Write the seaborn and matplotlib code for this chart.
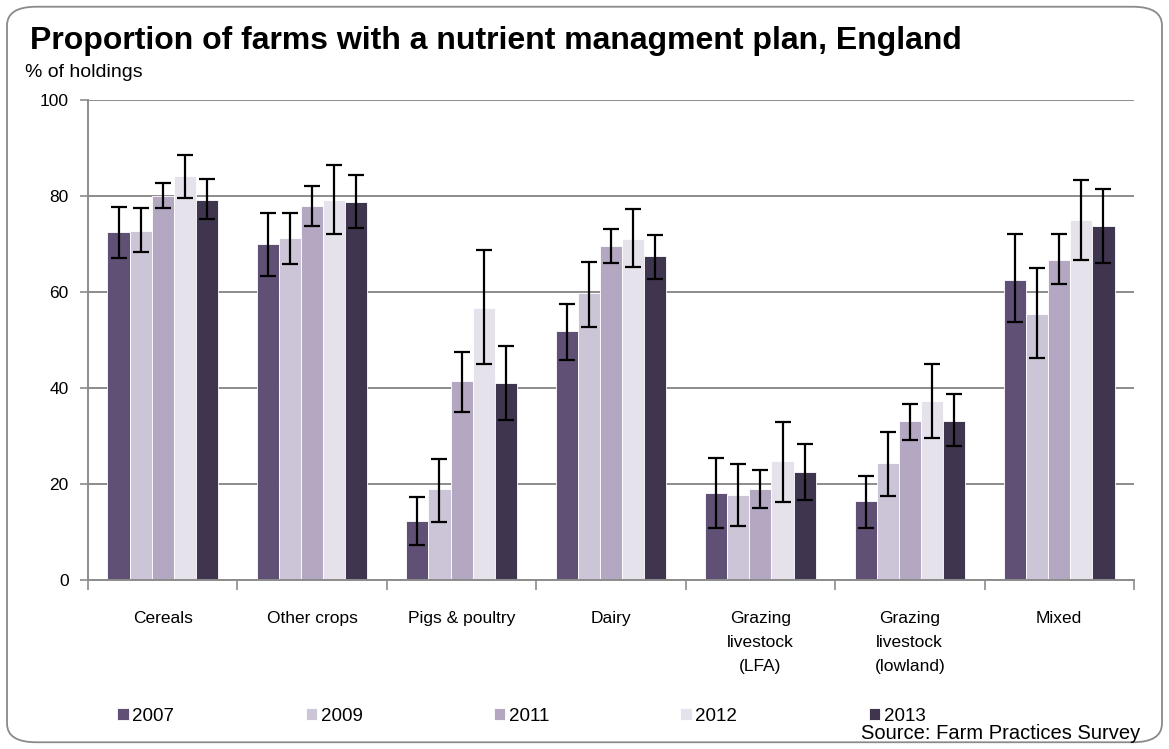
import pandas as pd
import matplotlib.pyplot as plt
import seaborn as sns
from matplotlib.patches import FancyBboxPatch

# ── DATA ─────────────────────────────────────────────────────────────────────
CATEGORIES = ["Cereals", "Other crops", "Pigs & poultry", "Dairy",
              "Grazing\nlivestock\n(LFA)", "Grazing\nlivestock\n(lowland)", "Mixed"]
YEARS = ["2007", "2009", "2011", "2012", "2013"]

# % of holdings, per year (one list per year, in category order)
VALUES = {
    "2007": [72.5, 70.0, 12.3, 51.8, 18.1, 16.5, 62.6],
    "2009": [72.8, 71.2, 19.0, 59.7, 17.7, 24.3, 55.5],
    "2011": [80.1, 78.0, 41.4, 69.6, 19.0, 33.1, 66.7],
    "2012": [84.1, 79.1, 56.7, 71.0, 24.7, 37.2, 75.0],
    "2013": [79.1, 78.7, 41.0, 67.5, 22.6, 33.1, 73.7],
}
# confidence interval bounds
LOWER = {
    "2007": [67.0, 63.3, 7.2, 45.8, 10.8, 10.8, 53.7],
    "2009": [68.3, 65.8, 12.1, 52.8, 11.3, 17.6, 46.2],
    "2011": [77.4, 73.7, 34.9, 66.1, 15.1, 29.2, 61.6],
    "2012": [79.5, 72.0, 44.9, 65.3, 16.3, 29.5, 66.6],
    "2013": [75.3, 73.3, 33.3, 62.8, 16.7, 27.9, 66.1],
}
UPPER = {
    "2007": [77.8, 76.5, 17.2, 57.4, 25.4, 21.7, 72.0],
    "2009": [77.4, 76.5, 25.3, 66.2, 24.2, 30.8, 64.9],
    "2011": [82.8, 82.0, 47.4, 73.2, 22.9, 36.7, 72.0],
    "2012": [88.6, 86.5, 68.7, 77.3, 32.9, 45.0, 83.3],
    "2013": [83.6, 84.4, 48.7, 71.9, 28.3, 38.7, 81.5],
}

COLORS = ["#604a7b", "#ccc1da", "#b3a2c7", "#e6e0ec", "#403152"]
GRID = "#8c8c8c"

rows = []
for yr in YEARS:
    for cat, v in zip(CATEGORIES, VALUES[yr]):
        rows.append({"category": cat, "year": yr, "value": v})
df = pd.DataFrame(rows)

# ── PLOT ─────────────────────────────────────────────────────────────────────
sns.set_theme(style="white")
plt.rcParams["font.family"] = ["Liberation Sans", "DejaVu Sans"]
plt.rcParams["text.color"] = "black"

fig = plt.figure(figsize=(11.69, 7.49), dpi=100)
ax = fig.add_axes([0.0753, 0.2256, 0.8947, 0.6409])

sns.barplot(data=df, x="category", y="value", hue="year", order=CATEGORIES,
            hue_order=YEARS, palette=COLORS, width=0.74, errorbar=None,
            edgecolor="white", linewidth=0.6, ax=ax, zorder=2)

# asymmetric error bars on the bar centres
for cont, yr in zip(ax.containers, YEARS):
    xs = [b.get_x() + b.get_width() / 2 for b in cont]
    vals = VALUES[yr]
    lo = [v - l for v, l in zip(vals, LOWER[yr])]
    hi = [u - v for v, u in zip(vals, UPPER[yr])]
    ax.errorbar(xs, vals, yerr=[lo, hi], fmt="none", ecolor="black",
                elinewidth=1.6, capsize=6, capthick=1.6, zorder=3)

ax.set_ylim(0, 100)
ax.set_yticks(range(0, 101, 20))
ax.set_xlim(-0.5, len(CATEGORIES) - 0.5)
ax.yaxis.grid(True, color=GRID, lw=1.4, zorder=0)
ax.set_axisbelow(True)
for s in ["top", "right"]:
    ax.spines[s].set_visible(False)
for s in ["left", "bottom"]:
    ax.spines[s].set_color(GRID)
    ax.spines[s].set_linewidth(1.4)

ax.set_xlabel("")
ax.set_ylabel("")
ax.tick_params(axis="y", left=True, length=6, width=1.2, color=GRID,
               labelsize=12.5, pad=8, labelcolor="black")
ax.set_xticks(range(len(CATEGORIES)))
ax.set_xticklabels(CATEGORIES, va="top", linespacing=1.75)
ax.tick_params(axis="x", length=0, labelsize=12.5, pad=22, labelcolor="black")
ax.set_xticks([i - 0.5 for i in range(len(CATEGORIES) + 1)], minor=True)
ax.tick_params(axis="x", which="minor", bottom=True, length=7, width=1.2, color=GRID)

ax.legend(loc="center left", bbox_to_anchor=(0.094, 0.044),
          bbox_transform=fig.transFigure, ncol=5, frameon=False,
          fontsize=13.5, handlelength=0.6, handleheight=0.6,
          handletextpad=0.2, columnspacing=7.0, borderaxespad=0)

fig.text(0.026, 0.945, "Proportion of farms with a nutrient managment plan, England",
         fontsize=23, fontweight="bold", va="center", ha="left")
fig.text(0.021, 0.903, "% of holdings", fontsize=14, va="center", ha="left")
fig.text(0.975, 0.021, "Source: Farm Practices Survey", fontsize=14.5,
         va="center", ha="right")

fig.patches.append(FancyBboxPatch((0.006, 0.009), 0.988, 0.982,
                                  boxstyle="round,pad=0,rounding_size=0.025",
                                  transform=fig.transFigure, fill=False,
                                  edgecolor="#8a8a8a", lw=1.3))

plt.savefig("out.png", dpi=100)
plt.close()
